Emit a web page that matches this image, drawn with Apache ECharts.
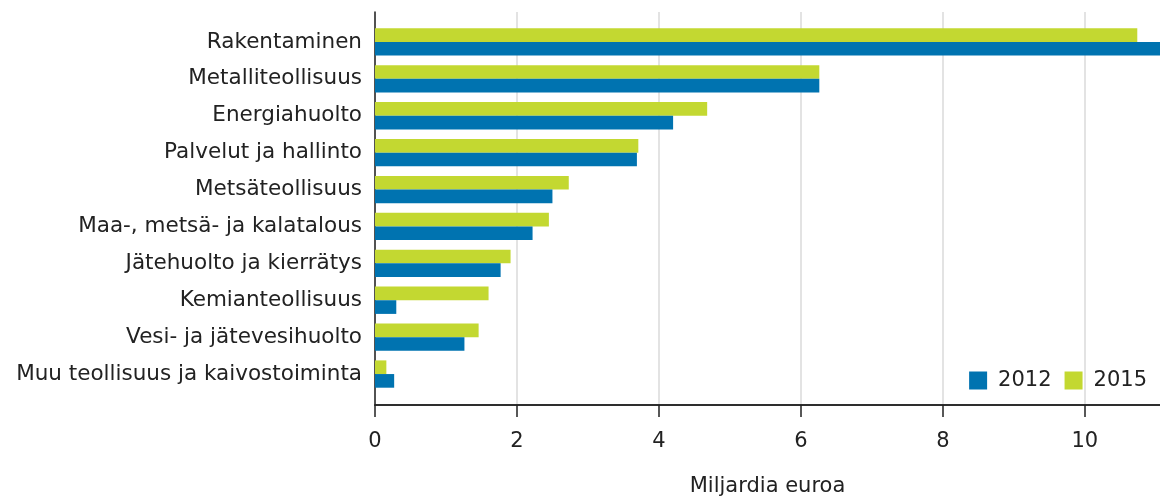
<!DOCTYPE html>
<html>
<head>
<meta charset="utf-8">
<script src="https://cdn.jsdelivr.net/npm/echarts@6/dist/echarts.min.js"></script>
<style>
  html, body { margin: 0; padding: 0; background: #fff; }
  #chart { width: 1160px; height: 497px; }
</style>
</head>
<body>
<div id="chart"></div>
<script>
var categories = [
    'Rakentaminen',
    'Metalliteollisuus',
    'Energiahuolto',
    'Palvelut ja hallinto',
    'Metsäteollisuus',
    'Maa-, metsä- ja kalatalous',
    'Jätehuolto ja kierrätys',
    'Kemianteollisuus',
    'Vesi- ja jätevesihuolto',
    'Muu teollisuus ja kaivostoiminta'
];
var seriesNames = ['2012', '2015'];
var values2012 = [11.06, 6.26, 4.20, 3.69, 2.50, 2.22, 1.77, 0.30, 1.26, 0.27];
var values2015 = [10.74, 6.26, 4.68, 3.71, 2.73, 2.45, 1.91, 1.60, 1.46, 0.16];
var axisMax = 11.06;   // visible end of the value axis
var frameMax = 12;     // frame axis runs past the right edge so no tick shows there

var chart = echarts.init(document.getElementById('chart'));
var font = 'DejaVu Sans';
var plotW = 1160 - 375;
var overflow = plotW / axisMax * frameMax - plotW;

var option = {
    animation: false,
    textStyle: { fontFamily: font },
    legend: {
        data: seriesNames,
        right: 8,
        top: 365,
        icon: 'rect',
        itemWidth: 18,
        itemHeight: 18,
        itemGap: 13,
        textStyle: { fontFamily: font, fontSize: 21, color: '#222', padding: [0, 0, 0, 6] }
    },
    grid: [
        // frame: axis lines, labels and grid lines
        { left: 375, right: -overflow, top: 12, bottom: 92, outerBoundsMode: 'none', containLabel: false },
        // bars and category labels
        { left: 375, right: 0, top: 23.5, bottom: 104.5, outerBoundsMode: 'none', containLabel: false },
        // tick marks only
        { left: 375, right: -overflow, top: 12, bottom: 92, outerBoundsMode: 'none' }
    ],
    xAxis: [{
        gridIndex: 0,
        type: 'value',
        min: 0,
        max: frameMax,
        interval: 2,
        name: 'Miljardia euroa',
        nameLocation: 'middle',
        nameGap: 71,
        nameTextStyle: { fontFamily: font, fontSize: 21, color: '#222', padding: [0, overflow, 0, 0] },
        axisLine: { show: true, onZero: false, lineStyle: { color: '#222', width: 1.5 } },
        axisTick: { show: true, inside: false, length: 12, lineStyle: { color: '#222', width: 1.5 } },
        axisLabel: {
            margin: 26,
            fontFamily: font,
            fontSize: 21,
            color: '#222'
        },
        splitLine: { show: true, lineStyle: { color: '#e3e3e3', width: 2 } }
    }, {
        gridIndex: 1,
        type: 'value',
        min: 0,
        max: axisMax,
        show: false
    }, {
        gridIndex: 2,
        type: 'value',
        min: 0,
        max: frameMax,
        interval: 2,
        axisLine: { show: true, onZero: false, lineStyle: { color: '#222', width: 1.5 } },
        axisTick: { show: true, length: 12, lineStyle: { color: '#222', width: 1.5 } },
        axisLabel: { show: false },
        splitLine: { show: false }
    }],
    yAxis: [{
        gridIndex: 0,
        type: 'value',
        axisLine: { show: true, onZero: false, lineStyle: { color: '#222', width: 1.5 } },
        axisTick: { show: false },
        axisLabel: { show: false },
        splitLine: { show: false }
    }, {
        gridIndex: 1,
        type: 'category',
        inverse: true,
        data: categories,
        axisLine: { show: false },
        axisTick: { show: false },
        axisLabel: { margin: 13, fontFamily: font, fontSize: 21.5, color: '#222' }
    }, {
        gridIndex: 2,
        type: 'value',
        show: false
    }],
    // 2015 listed first so it sits above 2012 in each category
    series: [{
        name: seriesNames[1],
        type: 'bar',
        xAxisIndex: 1,
        yAxisIndex: 1,
        data: values2015,
        itemStyle: { color: '#c3d831' },
        barGap: 0,
        barCategoryGap: '26%'
    }, {
        name: seriesNames[0],
        type: 'bar',
        xAxisIndex: 1,
        yAxisIndex: 1,
        data: values2012,
        itemStyle: { color: '#0073b0' },
        barGap: 0,
        barCategoryGap: '26%'
    }]
};

chart.setOption(option);
</script>
</body>
</html>
